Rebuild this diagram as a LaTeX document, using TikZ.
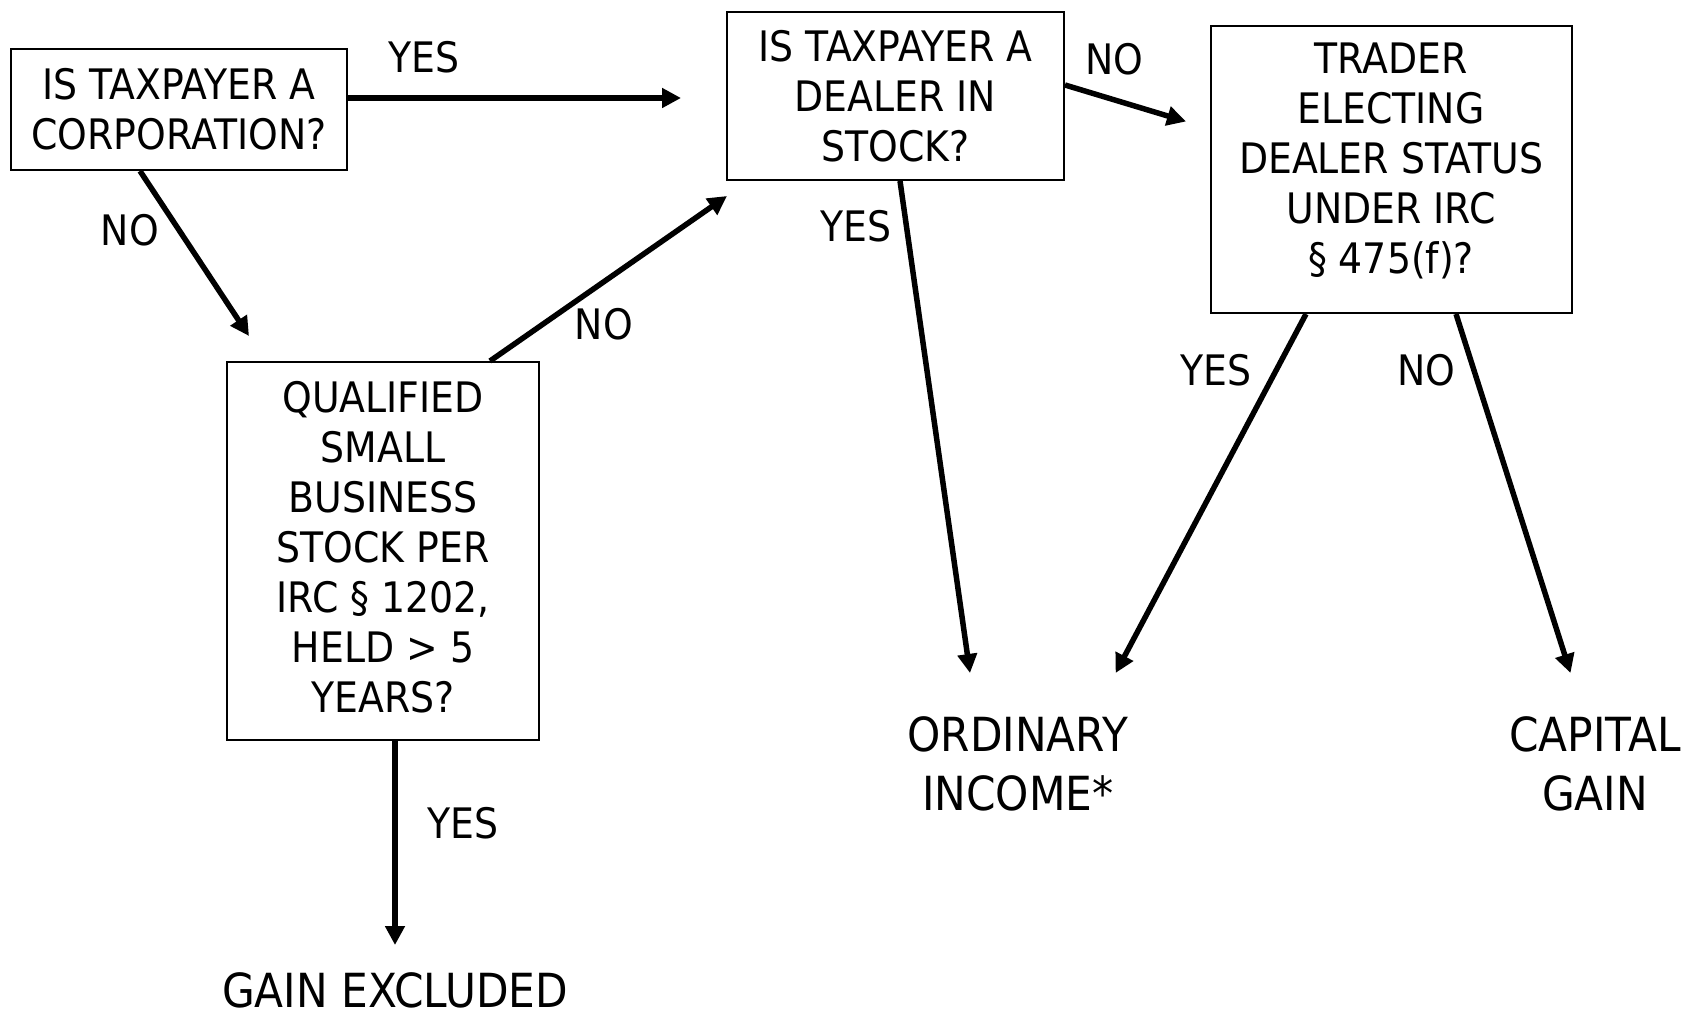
\documentclass[tikz,border=0pt]{standalone}
\usepackage{fontspec}
\setmainfont[FakeStretch=0.9]{DejaVu Sans}
\usetikzlibrary{arrows.meta}

\begin{document}
\begin{tikzpicture}[x=1pt, y=-1pt, ->, >={Triangle[length=19pt,width=19pt]}, line width=5.5pt,
	question/.style={draw, -, line width=2pt, align=center, inner sep=0pt, font=\fontsize{42}{50}\selectfont},
	result/.style={align=center, inner sep=0pt, font=\fontsize{47}{59}\selectfont},
	answer/.style={inner sep=0pt, font=\fontsize{42}{50}\selectfont}]
	\useasboundingbox (0,0) rectangle (1688,1016);

	\node[question, minimum width=336pt, minimum height=121pt] (corp) at (179,109.5) {IS TAXPAYER A\\CORPORATION?};
	\node[question, minimum width=312pt, minimum height=378pt] (qsbs) at (383,551) {QUALIFIED\\SMALL\\BUSINESS\\STOCK PER\\IRC § 1202,\\HELD > 5\\YEARS?\\[-42pt]\mbox{}};
	\node[question, minimum width=337pt, minimum height=168pt] (dealer) at (895.5,96) {IS TAXPAYER A\\DEALER IN\\STOCK?};
	\node[question, minimum width=361pt, minimum height=287pt] (trader) at (1391,169.5) {TRADER\\ELECTING\\DEALER STATUS\\UNDER IRC\\§ 475(f)?\\[-28pt]\mbox{}};

	\node[result] (gain) at (395,990) {GAIN EXCLUDED};
	\node[result] (ordinary) at (1018,764) {ORDINARY\\INCOME*};
	\node[result] (capital) at (1595,764) {CAPITAL\\GAIN};

		\draw ([yshift=11.5pt]corp.east) -- ([xshift=-45pt,yshift=-2pt]dealer.west);
		\draw ([xshift=-39pt]corp.south) -- ([xshift=23pt,yshift=25pt]qsbs.north west);
		\draw ([xshift=107pt]qsbs.north) -- ([xshift=1pt,yshift=-15pt]dealer.south west);
		\draw ([xshift=12pt]qsbs.south) -- ([yshift=45pt]gain.center);
		\draw ([yshift=11pt]dealer.east) -- ([xshift=-23.5pt,yshift=48pt]trader.west);
		\draw ([xshift=4.5pt]dealer.south) -- ([xshift=-48pt,yshift=91pt]ordinary.center);
		\draw ([xshift=-85pt]trader.south) -- ([xshift=97.6pt,yshift=91pt]ordinary.center);
		\draw ([xshift=65pt]trader.south) -- ([xshift=-24.5pt,yshift=91pt]capital.center);

	\node[answer] (yes1) at (423.5,57.5) {YES};
	\node[answer] (no1) at (130,230) {NO};
	\node[answer] (no2) at (604,324) {NO};
	\node[answer] (yes2) at (463,823.5) {YES};
	\node[answer] (no3) at (1114,59) {NO};
	\node[answer] (yes3) at (856,226) {YES};
	\node[answer] (yes4) at (1216,370) {YES};
	\node[answer] (no4) at (1426,370) {NO};
\end{tikzpicture}
\end{document}
